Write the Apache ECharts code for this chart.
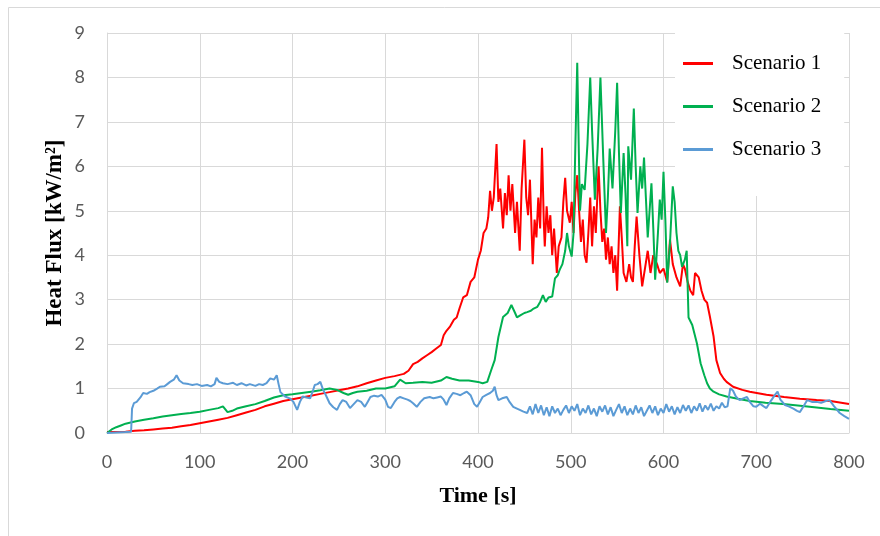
<!DOCTYPE html>
<html>
<head>
<meta charset="utf-8">
<title>Heat Flux</title>
<script src="https://cdn.jsdelivr.net/npm/echarts@6/dist/echarts.min.js"></script>
<style>
    html, body { margin: 0; padding: 0; background: #fff; }
    #chart { width: 880px; height: 536px; }
</style>
</head>
<body>
<div id="chart"></div>
<script>
// values: time [s] and heat flux [kW/m2]
const legendNames = ['Scenario 1', 'Scenario 2', 'Scenario 3']

const time1 = [0, 10, 20, 30, 40, 50, 60, 70, 80, 90, 100, 110, 120, 130, 140, 150, 160, 170, 180, 190,
    200, 210, 220, 230, 240, 250, 260, 270, 280, 290, 300, 310, 320, 325, 330, 335, 340, 345, 350, 355,
    360, 363, 366, 370, 374, 377, 380, 384, 388, 392, 396, 400, 403, 406, 409, 411, 413, 415, 417, 420,
    422, 424, 427, 429, 431, 433, 435, 437, 440, 442, 445, 447, 450, 452, 454, 456, 459, 461, 463, 465,
    467, 469, 471, 472, 474, 476, 478, 480, 482, 485, 487, 490, 492, 494, 496, 499, 501, 503, 505, 507,
    509, 511, 513, 515, 517, 519, 521, 523, 525, 527, 530, 532, 534, 536, 538, 540, 542, 544, 546, 548,
    550, 553, 555, 557, 560, 563, 565, 567, 569, 571, 574, 577, 580, 583, 586, 589, 593, 596, 600, 604,
    607, 610, 614, 618, 621, 623, 626, 629, 632, 634, 636, 638, 641, 644, 647, 650, 654, 657, 661, 665,
    668, 675, 685, 693, 711, 730, 747, 765, 780, 800]
const flux1 = [0.02, 0.02, 0.03, 0.05, 0.06, 0.08, 0.1, 0.12, 0.15, 0.18, 0.22, 0.26, 0.3, 0.34, 0.4, 0.46, 0.52, 0.6, 0.66, 0.72,
    0.76, 0.8, 0.84, 0.88, 0.92, 0.96, 1.0, 1.05, 1.12, 1.18, 1.24, 1.28, 1.33, 1.4, 1.55, 1.6, 1.68, 1.75, 1.82, 1.9,
    1.98, 2.2, 2.3, 2.4, 2.55, 2.6, 2.8, 3.05, 3.1, 3.4, 3.5, 3.9, 4.1, 4.5, 4.6, 4.85, 5.45, 5.0, 5.3, 6.5,
    5.2, 5.5, 4.6, 5.4, 4.9, 5.8, 5.0, 5.6, 4.5, 5.2, 4.1, 5.5, 6.6, 5.3, 4.9, 5.7, 3.8, 4.8, 4.4, 5.3,
    4.6, 6.42, 4.7, 4.2, 5.1, 4.5, 4.9, 4.0, 4.6, 3.6, 4.2, 4.4, 5.2, 5.74, 5.0, 4.73, 5.2, 4.5, 5.4, 5.8,
    5.0, 4.3, 4.8, 4.0, 3.83, 4.5, 5.3, 4.2, 5.1, 4.5, 6.0, 5.0, 4.3, 4.6, 3.9, 4.4, 3.8, 4.2, 3.6, 4.0,
    3.2, 5.1, 4.4, 3.6, 3.4, 3.8, 3.5, 3.4, 4.2, 4.87, 4.0, 3.3, 3.7, 4.1, 3.6, 4.0, 3.8, 3.6, 3.7, 3.4,
    4.35, 3.8, 3.5, 3.3, 3.8, 3.7, 3.4, 3.2, 3.1, 3.6, 3.63, 3.5, 3.2, 3.0, 2.93, 2.62, 2.17, 1.64, 1.35, 1.22,
    1.15, 1.04, 0.97, 0.93, 0.86, 0.81, 0.77, 0.74, 0.72, 0.65]

const time2 = [0, 5, 10, 15, 20, 30, 40, 50, 60, 70, 80, 90, 100, 110, 120, 125, 130, 135, 140, 150,
    160, 170, 180, 190, 200, 210, 220, 230, 240, 248, 255, 260, 265, 270, 280, 290, 300, 310, 316, 322,
    330, 340, 350, 360, 366, 372, 380, 390, 400, 405, 410, 414, 418, 422, 427, 432, 436, 440, 442, 446,
    450, 453, 457, 460, 464, 467, 470, 473, 476, 480, 483, 486, 488, 491, 494, 496, 498, 501, 503, 505,
    507, 509, 510, 512, 515, 518, 521, 523, 526, 529, 532, 535, 538, 540, 542, 545, 548, 550, 552, 554,
    557, 559, 561, 562, 565, 568, 570, 572, 575, 577, 579, 581, 583, 585, 587, 589, 591, 594, 596, 598,
    600, 602, 604, 607, 610, 612, 614, 616, 618, 620, 623, 625, 627, 631, 636, 640, 644, 647, 650, 654,
    660, 668, 680, 693, 710, 729, 750, 780, 800]
const flux2 = [0, 0.08, 0.13, 0.17, 0.21, 0.26, 0.3, 0.33, 0.37, 0.4, 0.43, 0.45, 0.48, 0.52, 0.56, 0.6, 0.47, 0.5, 0.55, 0.6,
    0.65, 0.72, 0.8, 0.85, 0.87, 0.9, 0.93, 0.96, 1.0, 0.97, 0.9, 0.86, 0.9, 0.93, 0.95, 1.0, 1.0, 1.05, 1.2, 1.12,
    1.13, 1.15, 1.13, 1.18, 1.26, 1.22, 1.18, 1.18, 1.15, 1.12, 1.15, 1.4, 1.64, 2.16, 2.61, 2.7, 2.88, 2.7, 2.6, 2.65,
    2.7, 2.72, 2.75, 2.8, 2.84, 2.95, 3.1, 2.95, 3.05, 3.07, 3.48, 3.55, 3.67, 3.8, 4.1, 4.5, 4.2, 3.97, 4.5, 6.5,
    8.33, 6.0, 5.0, 5.6, 5.47, 6.5, 8.0, 6.8, 5.25, 6.4, 8.0, 6.2, 4.5, 5.3, 6.4, 5.5, 6.8, 7.88, 6.3, 4.95,
    6.3, 5.4, 4.2, 6.45, 5.7, 7.3, 6.0, 4.95, 6.0, 5.5, 6.2, 5.3, 4.4, 5.0, 5.62, 4.6, 3.45, 4.5, 5.25, 4.8,
    5.88, 4.8, 3.38, 4.27, 5.55, 5.2, 4.5, 4.1, 4.0, 3.74, 3.9, 4.1, 2.6, 2.43, 2.02, 1.57, 1.3, 1.12, 1.0, 0.93,
    0.87, 0.82, 0.77, 0.72, 0.68, 0.65, 0.61, 0.54, 0.5]

const time3 = [0, 10, 20, 26, 27, 29, 32, 36, 39, 43, 46, 50, 54, 57, 62, 65, 68, 72, 75, 78,
    82, 88, 92, 97, 102, 108, 112, 116, 118, 121, 125, 130, 136, 140, 145, 150, 154, 160, 164, 168,
    172, 176, 180, 183, 185, 187, 192, 197, 201, 205, 208, 211, 215, 219, 222, 224, 227, 230, 233, 236,
    240, 244, 248, 251, 254, 258, 262, 266, 270, 274, 278, 281, 284, 288, 292, 296, 300, 303, 306, 310,
    313, 316, 320, 324, 327, 330, 334, 338, 342, 348, 352, 356, 360, 363, 366, 369, 373, 377, 381, 385,
    388, 392, 396, 399, 402, 405, 409, 413, 416, 418, 420, 422, 426, 431, 434, 438, 442, 445, 449, 453,
    456, 459, 462, 465, 468, 471, 474, 477, 480, 483, 486, 489, 492, 495, 498, 501, 504, 507, 510, 513,
    516, 519, 522, 525, 528, 531, 534, 537, 540, 543, 546, 549, 552, 555, 558, 561, 564, 567, 570, 573,
    576, 579, 582, 585, 588, 591, 594, 597, 600, 603, 606, 609, 612, 615, 618, 621, 624, 627, 630, 633,
    636, 639, 642, 645, 648, 651, 654, 657, 660, 663, 666, 669, 672, 675, 678, 682, 686, 690, 693, 697,
    700, 704, 708, 711, 715, 718, 721, 723, 726, 731, 735, 740, 744, 747, 751, 755, 760, 765, 770, 775,
    779, 784, 790, 795, 800]
const flux3 = [0, 0.01, 0.02, 0.03, 0.55, 0.67, 0.7, 0.8, 0.9, 0.88, 0.92, 0.95, 1.0, 1.04, 1.05, 1.1, 1.15, 1.2, 1.3, 1.18,
    1.12, 1.1, 1.08, 1.1, 1.06, 1.08, 1.05, 1.1, 1.24, 1.15, 1.12, 1.1, 1.13, 1.08, 1.12, 1.07, 1.1, 1.06, 1.1, 1.08,
    1.12, 1.23, 1.2, 1.3, 1.1, 0.92, 0.82, 0.78, 0.7, 0.52, 0.7, 0.82, 0.8, 0.78, 0.95, 1.08, 1.1, 1.15, 0.97, 0.85,
    0.67, 0.58, 0.52, 0.65, 0.74, 0.7, 0.56, 0.65, 0.74, 0.7, 0.59, 0.7, 0.81, 0.84, 0.82, 0.86, 0.75, 0.59, 0.56, 0.7,
    0.78, 0.81, 0.78, 0.75, 0.72, 0.67, 0.59, 0.7, 0.78, 0.81, 0.78, 0.8, 0.82, 0.75, 0.63, 0.78, 0.9, 0.88, 0.85, 0.9,
    0.93, 0.85, 0.65, 0.59, 0.7, 0.81, 0.86, 0.9, 0.95, 1.04, 0.85, 0.74, 0.78, 0.81, 0.7, 0.59, 0.55, 0.52, 0.48, 0.45,
    0.6, 0.42, 0.65, 0.45, 0.62, 0.4, 0.58, 0.38, 0.6, 0.45, 0.55, 0.4, 0.52, 0.62, 0.45, 0.6, 0.5, 0.65, 0.4, 0.55,
    0.45, 0.62, 0.42, 0.55, 0.38, 0.6, 0.48, 0.62, 0.42, 0.58, 0.38, 0.52, 0.65, 0.45, 0.6, 0.4, 0.55, 0.42, 0.62, 0.45,
    0.58, 0.38, 0.5, 0.62, 0.45, 0.6, 0.4, 0.55, 0.45, 0.65, 0.48, 0.6, 0.42, 0.58, 0.45, 0.63, 0.5, 0.62, 0.45, 0.6,
    0.5, 0.67, 0.48, 0.62, 0.52, 0.66, 0.5, 0.6, 0.55, 0.68, 0.58, 0.6, 1.01, 0.95, 0.82, 0.74, 0.78, 0.81, 0.7, 0.6,
    0.59, 0.66, 0.6, 0.56, 0.7, 0.79, 0.88, 0.93, 0.75, 0.63, 0.6, 0.55, 0.5, 0.47, 0.6, 0.74, 0.7, 0.7, 0.68, 0.72,
    0.74, 0.6, 0.45, 0.38, 0.32]

const colors = ['#ff0000', '#00b050', '#5b9bd5']

function pairs(t, v) {
    return t.map((x, i) => [x, v[i]])
}

const chart = echarts.init(document.getElementById('chart'))

const labelFont = {
    fontFamily: 'Lato',
    fontSize: 18,
    color: '#595959',
}
const nameFont = {
    fontFamily: 'Liberation Serif',
    fontWeight: 'bold',
    fontSize: 22,
    color: '#000',
}

chart.setOption({
    animation: false,
    color: colors,
    graphic: [
        {
            // outer chart frame
            type: 'rect',
            shape: { x: 8.5, y: 7.5, width: 900, height: 600 },
            style: { fill: 'none', stroke: '#d9d9d9', lineWidth: 1 },
            silent: true,
        },
    ],
    grid: {
        left: 107,
        right: 31,
        top: 33,
        bottom: 103,
        containLabel: false,
    },
    legend: {
        orient: 'vertical',
        left: 675,
        top: 33,
        padding: [20, 23, 36, 8],
        backgroundColor: '#fff',
        icon: 'rect',
        itemWidth: 30,
        itemHeight: 3,
        itemGap: 22,
        data: legendNames,
        textStyle: {
            fontFamily: 'Liberation Serif',
            fontSize: 21,
            color: '#000',
            padding: [0, 0, 0, 14],
        },
    },
    xAxis: {
        type: 'value',
        min: 0,
        max: 800,
        interval: 100,
        name: 'Time [s]',
        nameLocation: 'middle',
        nameGap: 52,
        nameMoveOverlap: false,
        nameTextStyle: nameFont,
        axisLine: { show: true, lineStyle: { color: '#d9d9d9' } },
        axisTick: { show: false },
        axisLabel: Object.assign({ margin: 20 }, labelFont),
        splitLine: { show: true, lineStyle: { color: '#d9d9d9' } },
    },
    yAxis: {
        type: 'value',
        min: 0,
        max: 9,
        interval: 1,
        name: 'Heat Flux [kW/m²]',
        nameLocation: 'middle',
        nameGap: 40,
        nameMoveOverlap: false,
        nameTextStyle: Object.assign({}, nameFont, { fontSize: 23 }),
        axisLine: { show: true, lineStyle: { color: '#d9d9d9' } },
        axisTick: { show: false },
        axisLabel: Object.assign({ margin: 22 }, labelFont),
        splitLine: { show: true, lineStyle: { color: '#d9d9d9' } },
    },
    series: [
        {
            name: legendNames[0],
            type: 'line',
            symbol: 'none',
            data: pairs(time1, flux1),
            lineStyle: { width: 2, color: colors[0] },
        },
        {
            name: legendNames[1],
            type: 'line',
            symbol: 'none',
            data: pairs(time2, flux2),
            lineStyle: { width: 2, color: colors[1] },
        },
        {
            name: legendNames[2],
            type: 'line',
            symbol: 'none',
            data: pairs(time3, flux3),
            lineStyle: { width: 2, color: colors[2] },
        },
    ],
})
</script>
</body>
</html>
